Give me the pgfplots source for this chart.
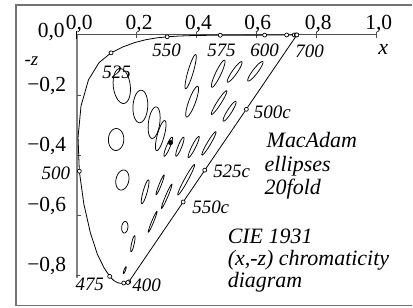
\documentclass[border=0pt]{standalone}
\usepackage{fontspec}
\setmainfont{Liberation Serif}
\usepackage{pgfplots}
\pgfplotsset{compat=1.18}
\definecolor{framec}{RGB}{115,115,115}
\definecolor{axc}{RGB}{80,80,80}
\definecolor{yaxc}{RGB}{130,130,130}
\newcommand{\tl}{\fontsize{21.5bp}{22bp}\selectfont}
\newcommand{\wl}{\fontsize{19bp}{20bp}\selectfont\itshape}
\newcommand{\al}{\fontsize{22bp}{23bp}\selectfont\itshape}
% MacAdam ellipse: x, y, a(1e-3), b(1e-3), theta(deg); drawn in (x,-z), -z = x+y-1, 10x enlarged
\newcommand{\mae}[5]{\addplot[ell] ({#1+0.01*(#3*cos(x)*cos(#5)-#4*sin(x)*sin(#5))},{#1+#2-1+0.01*(#3*cos(x)*(cos(#5)+sin(#5))+#4*sin(x)*(cos(#5)-sin(#5)))});}
\begin{document}
\begin{tikzpicture}
\begin{axis}[
  x=300bp, y=301bp,
  xmin=-0.2567, xmax=1.12, ymin=-0.907, ymax=0.1163,
  hide axis, clip=false,
  ell/.style={black, line width=0.75bp, domain=0:360, samples=60, no markers},
]
\path (axis cs:-0.2567,-0.907) rectangle (axis cs:1.12,0.1163);
% frame
\draw[framec, line width=1.5bp] (axis cs:1.12,0.0997) -- (axis cs:-0.2033,0.0997) -- (axis cs:-0.2033,-0.9003) -- (axis cs:1.12,-0.9003);
% axes
\draw[yaxc, line width=1.6bp] (axis cs:0,0) -- (axis cs:0,-0.81);
\draw[axc, line width=1bp] (axis cs:0,0) -- (axis cs:1,0);
\draw[black, line width=1bp] (axis cs:0,0.012) -- (axis cs:0,-0.012);
\draw[axc, line width=0.8bp] (axis cs:0.2,0.01) -- (axis cs:0.2,-0.01);
\draw[axc, line width=0.8bp] (axis cs:0.4,0.01) -- (axis cs:0.4,-0.01);
\draw[axc, line width=0.8bp] (axis cs:0.6,0.01) -- (axis cs:0.6,-0.01);
\draw[axc, line width=0.8bp] (axis cs:0.8,0.01) -- (axis cs:0.8,-0.01);
\draw[axc, line width=0.8bp] (axis cs:1.0,0.01) -- (axis cs:1.0,-0.01);
\draw[axc, line width=0.8bp] (axis cs:0,-0.2) -- (axis cs:0.014,-0.2);
\draw[axc, line width=0.8bp] (axis cs:0,-0.4) -- (axis cs:0.014,-0.4);
\draw[axc, line width=0.8bp] (axis cs:0,-0.6) -- (axis cs:0.014,-0.6);
\draw[axc, line width=0.8bp] (axis cs:-0.004,-0.8) -- (axis cs:0.01,-0.8);
% tick labels
\node[anchor=base, inner sep=0pt] at (axis cs:0.008,0.017) {\tl 0,0};
\node[anchor=base, inner sep=0pt] at (axis cs:0.208,0.017) {\tl 0,2};
\node[anchor=base, inner sep=0pt] at (axis cs:0.406,0.017) {\tl 0,4};
\node[anchor=base, inner sep=0pt] at (axis cs:0.604,0.017) {\tl 0,6};
\node[anchor=base, inner sep=0pt] at (axis cs:0.806,0.017) {\tl 0,8};
\node[anchor=base, inner sep=0pt] at (axis cs:1.008,0.017) {\tl 1,0};
\node[anchor=base east, inner sep=0pt] at (axis cs:-0.040,-0.007) {\tl 0,0};
\node[anchor=base east, inner sep=0pt] at (axis cs:-0.035,-0.187) {\tl −0,2};
\node[anchor=base east, inner sep=0pt] at (axis cs:-0.035,-0.387) {\tl −0,4};
\node[anchor=base east, inner sep=0pt] at (axis cs:-0.035,-0.587) {\tl −0,6};
\node[anchor=base east, inner sep=0pt] at (axis cs:-0.035,-0.787) {\tl −0,8};
\node[anchor=base west, inner sep=0pt] at (axis cs:-0.175,-0.103) {\wl -z};
\node[anchor=base, inner sep=0pt] at (axis cs:1.023,-0.066) {\al x};
% MacAdam ellipses
\mae{0.160}{0.057}{0.85}{0.35}{62.5}
\mae{0.187}{0.118}{2.2}{0.55}{77}
\mae{0.253}{0.125}{2.5}{0.5}{55.5}
\mae{0.150}{0.680}{7.2}{2.3}{105}
\mae{0.131}{0.521}{4.7}{2.0}{112.5}
\mae{0.212}{0.550}{5.8}{2.3}{100}
\mae{0.258}{0.450}{5.0}{2.0}{92}
\mae{0.152}{0.365}{3.8}{1.9}{110}
\mae{0.280}{0.385}{4.0}{1.5}{75.5}
\mae{0.380}{0.498}{4.4}{1.2}{70}
\mae{0.160}{0.200}{2.1}{0.95}{104}
\mae{0.228}{0.250}{3.1}{0.9}{72}
\mae{0.305}{0.323}{2.3}{0.9}{58}
\mae{0.385}{0.393}{3.8}{1.6}{65.5}
\mae{0.472}{0.399}{3.2}{1.4}{51}
\mae{0.527}{0.350}{2.6}{1.3}{20}
\mae{0.475}{0.300}{2.9}{1.1}{28.5}
\mae{0.510}{0.236}{2.4}{1.2}{29.5}
\mae{0.596}{0.283}{2.6}{1.3}{13}
\mae{0.344}{0.284}{2.3}{0.9}{60}
\mae{0.390}{0.237}{2.5}{1.0}{47}
\mae{0.441}{0.198}{2.8}{0.95}{34.5}
\mae{0.278}{0.223}{2.4}{0.55}{57.5}
\mae{0.300}{0.163}{2.9}{0.6}{54}
\mae{0.365}{0.153}{3.6}{0.95}{40}
% spectral locus (x, -z) 400..700 nm and purple line
\addplot[black, line width=0.8bp, no markers] coordinates {
(0.1733,-0.8219) (0.1730,-0.8222) (0.1726,-0.8226) (0.1721,-0.8231) (0.1714,-0.8235)
(0.1703,-0.8239) (0.1689,-0.8242) (0.1669,-0.8245) (0.1644,-0.8247) (0.1611,-0.8251)
(0.1566,-0.8257) (0.1510,-0.8263) (0.1440,-0.8263) (0.1355,-0.8246) (0.1241,-0.8181)
(0.1096,-0.8036) (0.0913,-0.7760) (0.0687,-0.7306) (0.0454,-0.6596) (0.0235,-0.5638)
(0.0082,-0.4534) (0.0039,-0.3413) (0.0139,-0.2359) (0.0389,-0.1491) (0.0743,-0.0919)
(0.1142,-0.0596) (0.1547,-0.0394) (0.1929,-0.0255) (0.2296,-0.0161) (0.2658,-0.0099)
(0.3016,-0.0061) (0.3373,-0.0038) (0.3731,-0.0024) (0.4087,-0.0017) (0.4441,-0.0012)
(0.4788,-0.0010) (0.5125,-0.0009) (0.5448,-0.0008) (0.5752,-0.0006) (0.6029,-0.0006)
(0.6270,-0.0005) (0.6482,-0.0004) (0.6658,-0.0002) (0.6801,-0.0002) (0.6915,-0.0002)
(0.7006,-0.0001) (0.7079,-0.0001) (0.7140,-0.0001) (0.7190,-0.0001) (0.7230,0)
(0.7260,0) (0.7300,0) (0.7320,0) (0.7334,0) (0.7344,0) (0.7347,0)
(0.1733,-0.8219)
};
% marks every 25 nm and complementary marks
\addplot[only marks, mark=*, mark size=2bp, mark options={fill=white, draw=black, line width=0.7bp}] coordinates {
(0.1733,-0.8219) (0.1703,-0.8239) (0.1566,-0.8257) (0.1096,-0.8036) (0.0082,-0.4534)
(0.1142,-0.0596) (0.3016,-0.0061) (0.4788,-0.0010) (0.6270,-0.0005) (0.7006,-0.0001)
(0.7260,0) (0.7327,0) (0.7347,0)
(0.566,-0.2474) (0.427,-0.450) (0.3549,-0.556)
};
% white point
\addplot[only marks, mark=*, mark size=2.3bp, black] coordinates {(0.3127,-0.3583)};
% wavelength labels
\node[inner sep=0pt] at (axis cs:0.133,-0.123) {\wl 525};
\node[inner sep=0pt] at (axis cs:0.300,-0.050) {\wl 550};
\node[inner sep=0pt] at (axis cs:0.483,-0.050) {\wl 575};
\node[inner sep=0pt] at (axis cs:0.627,-0.050) {\wl 600};
\node[inner sep=0pt] at (axis cs:0.777,-0.056) {\wl 700};
\node[inner sep=0pt] at (axis cs:0.653,-0.259) {\wl 500c};
\node[inner sep=0pt] at (axis cs:0.517,-0.455) {\wl 525c};
\node[inner sep=0pt] at (axis cs:0.447,-0.573) {\wl 550c};
\node[inner sep=0pt] at (axis cs:-0.070,-0.462) {\wl 500};
\node[inner sep=0pt] at (axis cs:0.043,-0.831) {\wl 475};
\node[inner sep=0pt] at (axis cs:0.233,-0.834) {\wl 400};
% annotations
\node[anchor=base west, inner sep=0pt] at (axis cs:0.6333,-0.3754) {\al MacAdam};
\node[anchor=base west, inner sep=0pt] at (axis cs:0.6267,-0.4551) {\al ellipses};
\node[anchor=base west, inner sep=0pt] at (axis cs:0.6267,-0.5316) {\al 20fold};
\node[anchor=base west, inner sep=0pt] at (axis cs:0.5033,-0.6944) {\al CIE 1931};
\node[anchor=base west, inner sep=0pt] at (axis cs:0.5033,-0.7674) {\al (x,-z) chromaticity};
\node[anchor=base west, inner sep=0pt] at (axis cs:0.5033,-0.8405) {\al diagram};
\end{axis}
\end{tikzpicture}
\end{document}
